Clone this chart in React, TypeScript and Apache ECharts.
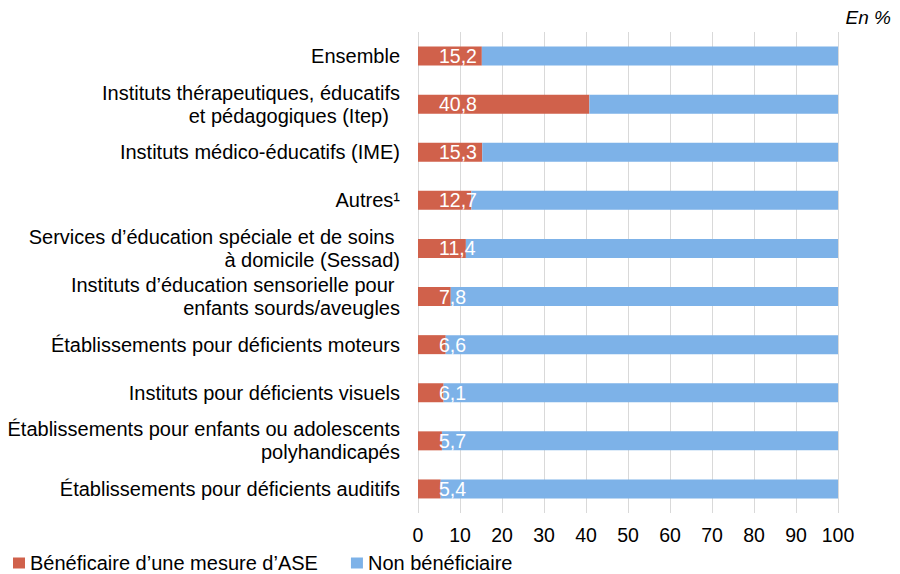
import React, { useEffect, useRef } from "react";
import * as echarts from "echarts";

const categories: string[] = [
  "Ensemble",
  "Instituts thérapeutiques, éducatifs\net pédagogiques (Itep)  ",
  "Instituts médico-éducatifs (IME)",
  "Autres¹",
  "Services d’éducation spéciale et de soins \nà domicile (Sessad)",
  "Instituts d’éducation sensorielle pour \nenfants sourds/aveugles",
  "Établissements pour déficients moteurs",
  "Instituts pour déficients visuels",
  "Établissements pour enfants ou adolescents\npolyhandicapés",
  "Établissements pour déficients auditifs",
];

const beneficiaire: number[] = [15.2, 40.8, 15.3, 12.7, 11.4, 7.8, 6.6, 6.1, 5.7, 5.4];
const nonBeneficiaire: number[] = [84.8, 59.2, 84.7, 87.3, 88.6, 92.2, 93.4, 93.9, 94.3, 94.6];

const seriesNames: string[] = ["Bénéficaire d’une mesure d’ASE", "Non bénéficiaire"];

const FONT = "'Liberation Sans', Arial, sans-serif";

export default function App() {
  const ref = useRef<HTMLDivElement>(null);

  useEffect(() => {
    if (!ref.current) return;
    const chart = echarts.init(ref.current, undefined, { renderer: "svg" });
    chart.setOption({
      animation: false,
      textStyle: { fontFamily: FONT },
      grid: { left: 418, right: 62, top: 32, bottom: 61, containLabel: false },
      legend: {
        left: 13,
        top: 553,
        padding: 0,
        icon: "rect",
        itemWidth: 12,
        itemHeight: 11,
        itemGap: 33,
        textStyle: { fontSize: 20, lineHeight: 20, color: "#000", fontFamily: FONT },
        data: seriesNames,
      },
      xAxis: {
        type: "value",
        min: 0,
        max: 100,
        interval: 10,
        axisLine: { show: false },
        axisTick: { show: false },
        axisLabel: { fontSize: 19.5, color: "#000", margin: 12, fontFamily: FONT },
        splitLine: { show: true, lineStyle: { color: "#D9D9D9", width: 1 } },
      },
      yAxis: {
        type: "category",
        inverse: true,
        data: categories,
        axisLine: { show: false },
        axisTick: { show: false },
        axisLabel: {
          fontSize: 20,
          color: "#000",
          margin: 18,
          lineHeight: 23,
          align: "right",
          fontFamily: FONT,
        },
      },
      graphic: [
        {
          type: "text",
          right: 9,
          top: 8,
          style: {
            text: "En %",
            fontSize: 19,
            fontStyle: "italic",
            fill: "#000",
            fontFamily: FONT,
          },
        },
      ],
      series: [
        {
          name: seriesNames[0],
          type: "bar",
          stack: "total",
          barWidth: 19,
          data: beneficiaire,
          itemStyle: { color: "#D0614B" },
          label: {
            show: true,
            position: [21, "50%"],
            align: "left",
            verticalAlign: "middle",
            color: "#fff",
            fontSize: 19.5,
            fontFamily: FONT,
            formatter: (p: any) => String(p.value).replace(".", ","),
          },
        },
        {
          name: seriesNames[1],
          type: "bar",
          stack: "total",
          barWidth: 19,
          data: nonBeneficiaire,
          itemStyle: { color: "#7DB2E8" },
        },
      ],
    });
    return () => chart.dispose();
  }, []);

  return (
    <div
      ref={ref}
      style={{ position: "fixed", left: 0, top: 0, width: 900, height: 574, background: "#fff" }}
    />
  );
}
